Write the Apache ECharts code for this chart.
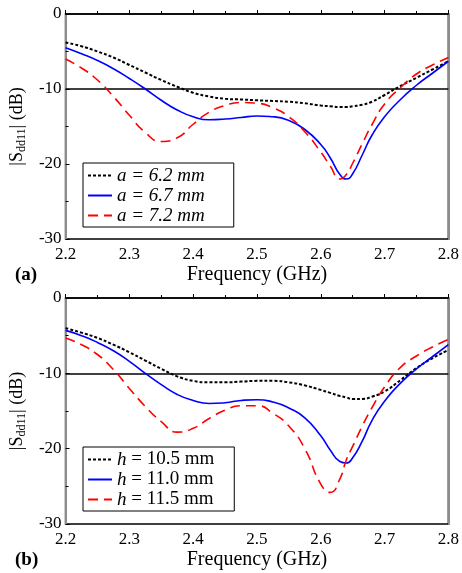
<!DOCTYPE html>
<html>
<head>
<meta charset="utf-8">
<script src="https://cdn.jsdelivr.net/npm/echarts@6/dist/echarts.min.js"></script>
<style>
html,body{margin:0;padding:0;background:#fff;}
#c{width:462px;height:573px;}
</style>
</head>
<body>
<div id="c"></div>
<script>
// Shared frequency samples (GHz)
const freq = [2.20,2.225,2.25,2.275,2.30,2.325,2.35,2.375,2.40,2.425,2.45,2.475,2.50,2.525,2.55,2.575,2.60,2.615,2.63,2.64,2.65,2.665,2.68,2.70,2.725,2.75,2.775,2.80];

// Panel (a): |Sdd11| (dB) for a = 6.2, 6.7, 7.2 mm
const a62 = [-3.8,-4.3,-5.0,-5.8,-6.8,-7.8,-8.8,-9.7,-10.5,-11.0,-11.3,-11.4,-11.5,-11.6,-11.7,-11.9,-12.2,-12.3,-12.4,-12.4,-12.3,-12.1,-11.7,-10.8,-9.6,-8.5,-7.4,-6.3];
const a67 = [-4.5,-5.3,-6.2,-7.3,-8.6,-10.0,-11.5,-12.8,-13.7,-14.1,-14.0,-13.8,-13.6,-13.7,-14.2,-15.4,-17.4,-19.2,-21.4,-22.0,-21.3,-18.8,-16.2,-13.7,-11.4,-9.5,-7.9,-6.3];
const a72 = [-6.0,-7.2,-8.8,-11.0,-13.5,-15.8,-17.0,-16.5,-14.7,-13.1,-12.2,-11.8,-11.9,-12.5,-13.7,-15.7,-18.4,-20.3,-22.0,-21.4,-19.9,-17.3,-14.8,-12.0,-9.8,-8.0,-6.8,-5.8];

// Panel (b): |Sdd11| (dB) for h = 10.5, 11.0, 11.5 mm
const h105 = [-4.0,-4.6,-5.3,-6.2,-7.2,-8.3,-9.4,-10.4,-11.0,-11.2,-11.2,-11.1,-11.0,-11.0,-11.2,-11.6,-12.2,-12.6,-13.0,-13.2,-13.4,-13.4,-13.1,-12.4,-10.9,-9.3,-8.0,-6.9];
const h110 = [-4.3,-5.0,-5.9,-7.0,-8.4,-10.0,-11.5,-12.8,-13.6,-14.0,-13.9,-13.6,-13.5,-13.8,-14.6,-15.9,-18.3,-20.2,-21.7,-21.9,-21.2,-19.0,-16.3,-13.7,-11.3,-9.4,-7.8,-6.2];
const h115 = [-5.3,-6.2,-7.5,-9.5,-12.0,-14.4,-16.4,-17.8,-17.3,-16.0,-14.9,-14.3,-14.3,-15.3,-17.0,-20.0,-24.7,-25.8,-24.0,-21.5,-19.7,-17.0,-14.6,-11.8,-9.2,-7.7,-6.5,-5.5];

const namesA = ['a = 6.2 mm','a = 6.7 mm','a = 7.2 mm'];
const namesB = ['h = 10.5 mm','h = 11.0 mm','h = 11.5 mm'];
const xTickLabels = ['2.2','2.3','2.4','2.5','2.6','2.7','2.8'];
const yTickLabels = ['-30','-20','-10','0'];
const refLevel = -10;

const FONT = '"Liberation Serif", "Times New Roman", serif';
const pairs = arr => freq.map((f,i)=>[f, arr[i]]);

const styles = [
  {color:'#000000', width:2, type:[3,2]},
  {color:'#0000ff', width:1.6, type:'solid'},
  {color:'#ff0000', width:1.6, type:[10,6]}
];

function xAx(i){
  return {
    type:'value', gridIndex:i, min:2.2, max:2.8, interval:0.1,
    axisLine:{show:true, lineStyle:{color:'#000', width:1.5}},
    axisTick:{inside:true, length:4, lineStyle:{color:'#000', width:1}},
    minorTick:{show:true, splitNumber:2, length:3, lineStyle:{color:'#000', width:1}},
    splitLine:{show:false},
    axisLabel:{margin:7, fontSize:17, color:'#000', fontFamily:FONT,
      formatter: v => xTickLabels[Math.round((v-2.2)*10)] ?? ''},
    name:'Frequency (GHz)', nameLocation:'middle', nameGap:26,
    nameTextStyle:{fontSize:20, color:'#000', fontFamily:FONT}
  };
}
function yAxLeft(i){
  return {
    type:'value', gridIndex:i, min:-30, max:0, interval:10, position:'left',
    axisLine:{show:true, lineStyle:{color:'#8c8c8c', width:2}},
    axisTick:{inside:true, length:4, lineStyle:{color:'#000', width:1}},
    minorTick:{show:true, splitNumber:2, length:3, lineStyle:{color:'#000', width:1}},
    splitLine:{show:false},
    axisLabel:{margin:4, fontSize:17, color:'#000', fontFamily:FONT,
      formatter: v => yTickLabels[Math.round((v+30)/10)] ?? ''},
    name:'|S{sub|dd11}| (dB)', nameLocation:'middle', nameGap:34,
    nameTextStyle:{fontSize:18, color:'#000', fontFamily:FONT,
      rich:{sub:{fontSize:12, color:'#000', fontFamily:FONT, verticalAlign:'bottom', lineHeight:22}}}
  };
}
function yAxRight(i){
  return {
    type:'value', gridIndex:i, min:-30, max:0, position:'right',
    axisLine:{show:true, lineStyle:{color:'#8c8c8c', width:2}},
    axisTick:{show:false}, axisLabel:{show:false}, splitLine:{show:false}
  };
}

function mkSeries(name, arr, k, gi, withRef){
  const s = {
    type:'line', name, data:pairs(arr), xAxisIndex:gi, yAxisIndex:gi,
    showSymbol:false, symbol:'none', smooth:0.55,
    lineStyle:{color:styles[k].color, width:styles[k].width, type:styles[k].type},
    itemStyle:{color:styles[k].color}, z:3
  };
  if (withRef) {
    s.markLine = {silent:true, symbol:['none','none'], label:{show:false},
      lineStyle:{color:'#000', width:1.5, type:'solid'}, data:[{yAxis:refLevel}], z:2};
  }
  return s;
}

const legendCommon = {
  orient:'vertical', itemWidth:24, itemHeight:10, itemGap:1,
  borderColor:'#000', borderWidth:1, backgroundColor:'#fff',
  itemStyle:{opacity:0}, inactiveColor:'#000'
};

const option = {
  animation:false,
  backgroundColor:'#fff',
  grid:[
    {left:61, top:14, width:388, height:225, show:true, borderColor:'#000', borderWidth:1.5, backgroundColor:'transparent'},
    {left:61, top:298, width:388, height:226, show:true, borderColor:'#000', borderWidth:1.5, backgroundColor:'transparent'}
  ],
  xAxis:[xAx(0), xAx(1)],
  yAxis:[yAxLeft(0), yAxLeft(1), yAxRight(0), yAxRight(1)],
  legend:[
    Object.assign({}, legendCommon, {data:namesA, left:83, top:163, padding:[3,29,2,4],
      textStyle:{fontSize:19, fontStyle:'italic', color:'#000', fontFamily:FONT}}),
    Object.assign({}, legendCommon, {data:namesB, left:83, top:447, padding:[3,20,2,4],
      formatter: n => '{i|h}' + n.slice(1),
      textStyle:{fontSize:19, color:'#000', fontFamily:FONT,
        rich:{i:{fontSize:19, fontStyle:'italic', color:'#000', fontFamily:FONT}}}})
  ],
  graphic:[
    {type:'text', left:15, top:266, style:{text:'(a)', font:'bold 19px "Liberation Serif"', fill:'#000'}},
    {type:'text', left:15, top:551, style:{text:'(b)', font:'bold 19px "Liberation Serif"', fill:'#000'}}
  ],
  series:[
    mkSeries(namesA[0], a62, 0, 0, true),
    mkSeries(namesA[1], a67, 1, 0, false),
    mkSeries(namesA[2], a72, 2, 0, false),
    mkSeries(namesB[0], h105, 0, 1, true),
    mkSeries(namesB[1], h110, 1, 1, false),
    mkSeries(namesB[2], h115, 2, 1, false)
  ]
};

const chart = echarts.init(document.getElementById('c'), null, {renderer:'canvas'});
chart.setOption(option);
</script>
</body>
</html>
